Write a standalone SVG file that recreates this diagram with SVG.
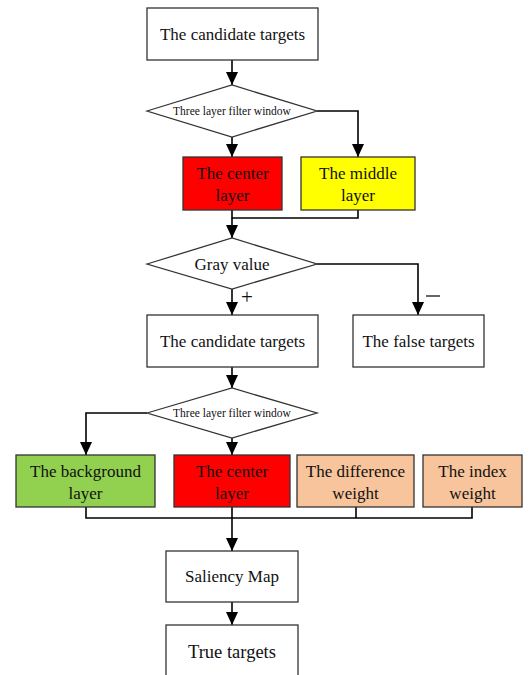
<svg xmlns="http://www.w3.org/2000/svg" width="529" height="675" viewBox="0 0 529 675">
<style>
.b{stroke:#333;stroke-width:1.3}
.w{fill:#fff}
.t{font-family:"Liberation Serif","Times New Roman",serif;font-size:17px;fill:#111;text-anchor:middle}
.s{font-size:11.5px}
.c{fill:none;stroke:#000;stroke-width:1.6}
</style>
<defs>
<marker id="a" markerWidth="14" markerHeight="12" refX="13" refY="6" orient="auto" markerUnits="userSpaceOnUse">
<path d="M0,0 L13,6 L0,12 Z" fill="#000"/>
</marker>
</defs>
<rect width="529" height="675" fill="#fff"/>
<g id="connectors">
<path class="c" d="M232,60 V85" marker-end="url(#a)"/>
<path class="c" d="M232,137 V157" marker-end="url(#a)"/>
<path class="c" d="M317,111 H358 V157" marker-end="url(#a)"/>
<path class="c" d="M232,210 V218 H358 V210"/>
<path class="c" d="M232,218 V238" marker-end="url(#a)"/>
<path class="c" d="M232,289 V315" marker-end="url(#a)"/>
<path class="c" d="M317,264 H418 V315" marker-end="url(#a)"/>
<path class="c" d="M232,367 V388" marker-end="url(#a)"/>
<path class="c" d="M147,413 H86 V455" marker-end="url(#a)"/>
<path class="c" d="M232,438 V455" marker-end="url(#a)"/>
<path class="c" d="M86,507 V518 H472 V507 M356,507 V518 M232,507 V518"/>
<path class="c" d="M232,518 V551" marker-end="url(#a)"/>
<path class="c" d="M232,602 V625" marker-end="url(#a)"/>
<text class="t" x="247" y="304" style="font-size:21px">+</text>
<path d="M426,296 H440" stroke="#000" stroke-width="1.2"/>
</g>
<g id="n1"><rect class="b w" x="147" y="8" width="171" height="52"/><text class="t" x="232.5" y="40">The candidate targets</text></g>
<g id="d1"><polygon class="b w" points="147,111 232,85 317,111 232,137"/><text class="t s" x="232" y="115">Three layer filter window</text></g>
<g id="n2"><rect class="b" fill="#ff0000" x="183" y="157" width="99" height="53"/><text class="t" x="232.5" y="179">The center</text><text class="t" x="232.5" y="201">layer</text></g>
<g id="n3"><rect class="b" fill="#ffff00" x="301" y="157" width="114" height="53"/><text class="t" x="358" y="179">The middle</text><text class="t" x="358" y="201">layer</text></g>
<g id="d2"><polygon class="b w" points="147,264 232,238 317,264 232,289"/><text class="t" x="232" y="270">Gray value</text></g>
<g id="n4"><rect class="b w" x="147" y="315" width="171" height="52"/><text class="t" x="232.5" y="347">The candidate targets</text></g>
<g id="n5"><rect class="b w" x="353" y="315" width="131" height="52"/><text class="t" x="418.5" y="347">The false targets</text></g>
<g id="d3"><polygon class="b w" points="147,413 232,388 317,413 232,438"/><text class="t s" x="232" y="417">Three layer filter window</text></g>
<g id="n6"><rect class="b" fill="#92d050" x="16" y="455" width="139" height="52"/><text class="t" x="85.5" y="477">The background</text><text class="t" x="85.5" y="499">layer</text></g>
<g id="n7"><rect class="b" fill="#ff0000" x="174" y="455" width="116" height="52"/><text class="t" x="232" y="477">The center</text><text class="t" x="232" y="499">layer</text></g>
<g id="n8"><rect class="b" fill="#f8c49c" x="297" y="455" width="117" height="52"/><text class="t" x="355.5" y="477">The difference</text><text class="t" x="355.5" y="499">weight</text></g>
<g id="n9"><rect class="b" fill="#f8c49c" x="423" y="455" width="99" height="52"/><text class="t" x="472.5" y="477">The index</text><text class="t" x="472.5" y="499">weight</text></g>
<g id="n10"><rect class="b w" x="166" y="551" width="132" height="51"/><text class="t" x="232" y="582">Saliency Map</text></g>
<g id="n11"><rect class="b w" x="166" y="625" width="132" height="60"/><text class="t" x="232" y="658" style="font-size:18.5px">True targets</text></g>
</svg>
